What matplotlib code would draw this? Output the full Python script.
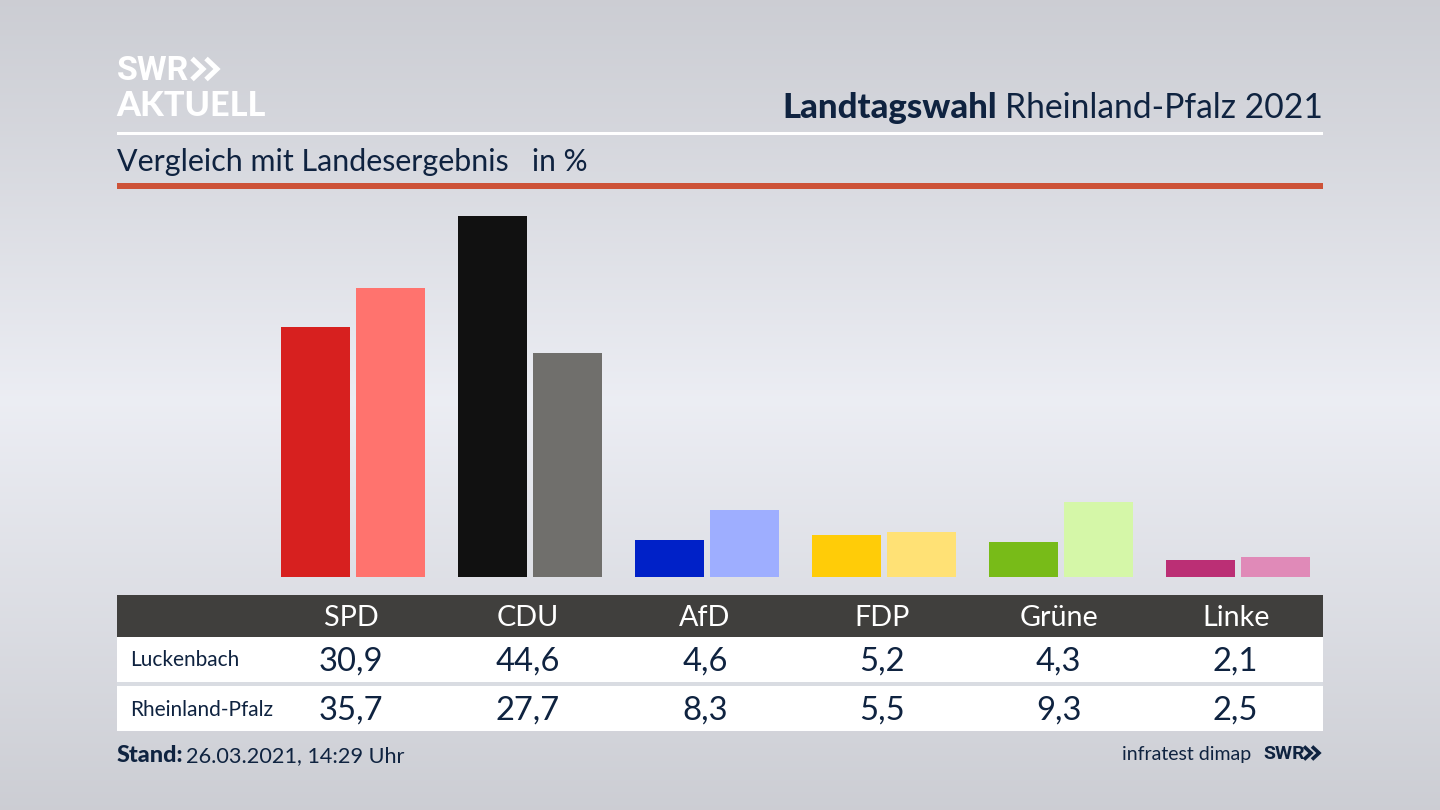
import numpy as np
import matplotlib
matplotlib.use("Agg")
import matplotlib.pyplot as plt
from matplotlib.patches import Rectangle

parties = ["SPD", "CDU", "AfD", "FDP", "Grüne", "Linke"]
luckenbach = [30.9, 44.6, 4.6, 5.2, 4.3, 2.1]
rheinland_pfalz = [35.7, 27.7, 8.3, 5.5, 9.3, 2.5]
colors_local = ["#d7201f", "#111111", "#0021c8", "#ffcc08", "#78bb18", "#bb2f75"]
colors_state = ["#ff736e", "#706f6c", "#9eaeff", "#ffe175", "#d5f7a8", "#e08ab8"]
row_names = ["Luckenbach", "Rheinland-Pfalz"]

NAVY = "#0f2340"
W, H = 1440, 810
plt.rcParams["font.family"] = ["Lato", "DejaVu Sans"]
fig = plt.figure(figsize=(W / 100, H / 100), dpi=100)

# background gradient
bg = fig.add_axes([0, 0, 1, 1], zorder=0)
stops_y = [0, 130, 400, 620, 810]
stops_v = [0.800, 0.835, 0.925, 0.860, 0.800]
yy = np.arange(H)
base = np.interp(yy, stops_y, stops_v)
img = np.stack([base, base + 0.006, base + 0.030], axis=1).reshape(H, 1, 3).clip(0, 1)
bg.imshow(img, aspect="auto", extent=(0, W, H, 0))
bg.set_xlim(0, W); bg.set_ylim(H, 0); bg.axis("off")

# pixel overlay
ov = fig.add_axes([0, 0, 1, 1], zorder=1)
ov.set_xlim(0, W); ov.set_ylim(H, 0); ov.axis("off"); ov.patch.set_alpha(0)

def rect(x0, y0, x1, y1, c):
    ov.add_patch(Rectangle((x0, y0), x1 - x0, y1 - y0, fc=c, ec="none"))

def chevrons(x, y, h, w, gap, lw, c):
    for i in range(2):
        xs = x + i * gap
        ov.plot([xs, xs + w, xs], [y - h / 2, y, y + h / 2], color=c, lw=lw,
                solid_joinstyle="miter", solid_capstyle="butt")

# logo
ov.text(117, 71, "SWR", color="white", fontsize=24.5, fontweight="bold", va="center", ha="left", family="Roboto")
chevrons(192, 69, 21, 11, 14, 3.6, "white")
ov.text(116, 105.5, "AKTUELL", color="white", fontsize=24.7, fontweight="black", va="center", ha="left")

# header
ov.text(1323, 108.5, "Rheinland-Pfalz 2021", color=NAVY, fontsize=24.2, ha="right", va="center")
ov.text(997, 108.5, "Landtagswahl", color=NAVY, fontsize=25, fontweight="black", ha="right", va="center")
rect(117, 132, 1323, 135, "white")
ov.text(117, 162, "Vergleich mit Landesergebnis", color=NAVY, fontsize=21.9, ha="left", va="center")
ov.text(532, 162, "in %", color=NAVY, fontsize=21.5, ha="left", va="center")
rect(117, 183, 1323, 189, "#cd5238")

# bars (data axes)
px_per_cat = 176.95
px_per_unit = 8.1
x0_px, x1_px, top_px, base_px = 117, 1323, 190, 577
ax = fig.add_axes([x0_px / W, 1 - base_px / H, (x1_px - x0_px) / W, (base_px - top_px) / H], zorder=2)
ax.patch.set_alpha(0)
ax.set_xlim((x0_px - 353) / px_per_cat, (x1_px - 353) / px_per_cat)
ax.set_ylim(0, (base_px - top_px) / px_per_unit)
ax.axis("off")
x = np.arange(len(parties))
bw = 69.5 / px_per_cat
off = 37.5 / px_per_cat
ax.bar(x - off, luckenbach, bw, color=colors_local)
ax.bar(x + off, rheinland_pfalz, bw, color=colors_state)

# table
rect(117, 595, 1323, 637, "#403f3d")
rect(117, 637, 1323, 682, "white")
rect(117, 686, 1323, 731, "white")
rect(117, 682, 1323, 686, "#d9dce2")
cx = 351 + x * px_per_cat
for c, p in zip(cx, parties):
    ov.text(c, 618, p, color="white", fontsize=20.7, ha="center", va="center")
for y, name, vals in zip([662, 711], row_names, [luckenbach, rheinland_pfalz]):
    ov.text(130.5, y - 1.5, name, color=NAVY, fontsize=15, ha="left", va="center")
    for c, v in zip(cx, vals):
        ov.text(c, y, f"{v:.1f}".replace(".", ","), color=NAVY, fontsize=23.6, ha="center", va="center")

# footer
ov.text(117, 756, "Stand:", color=NAVY, fontsize=16.8, fontweight="black", ha="left", va="center")
ov.text(186, 756, "26.03.2021, 14:29 Uhr", color=NAVY, fontsize=15.6, ha="left", va="center")
ov.text(1251, 754.5, "infratest dimap", color=NAVY, fontsize=14, ha="right", va="center")
ov.text(1263, 754, "SWR", color=NAVY, fontsize=14, fontweight="bold", ha="left", va="center", family="Roboto")
chevrons(1304, 753, 13, 7, 8, 2.6, NAVY)

fig.savefig("out.png", dpi=100)
